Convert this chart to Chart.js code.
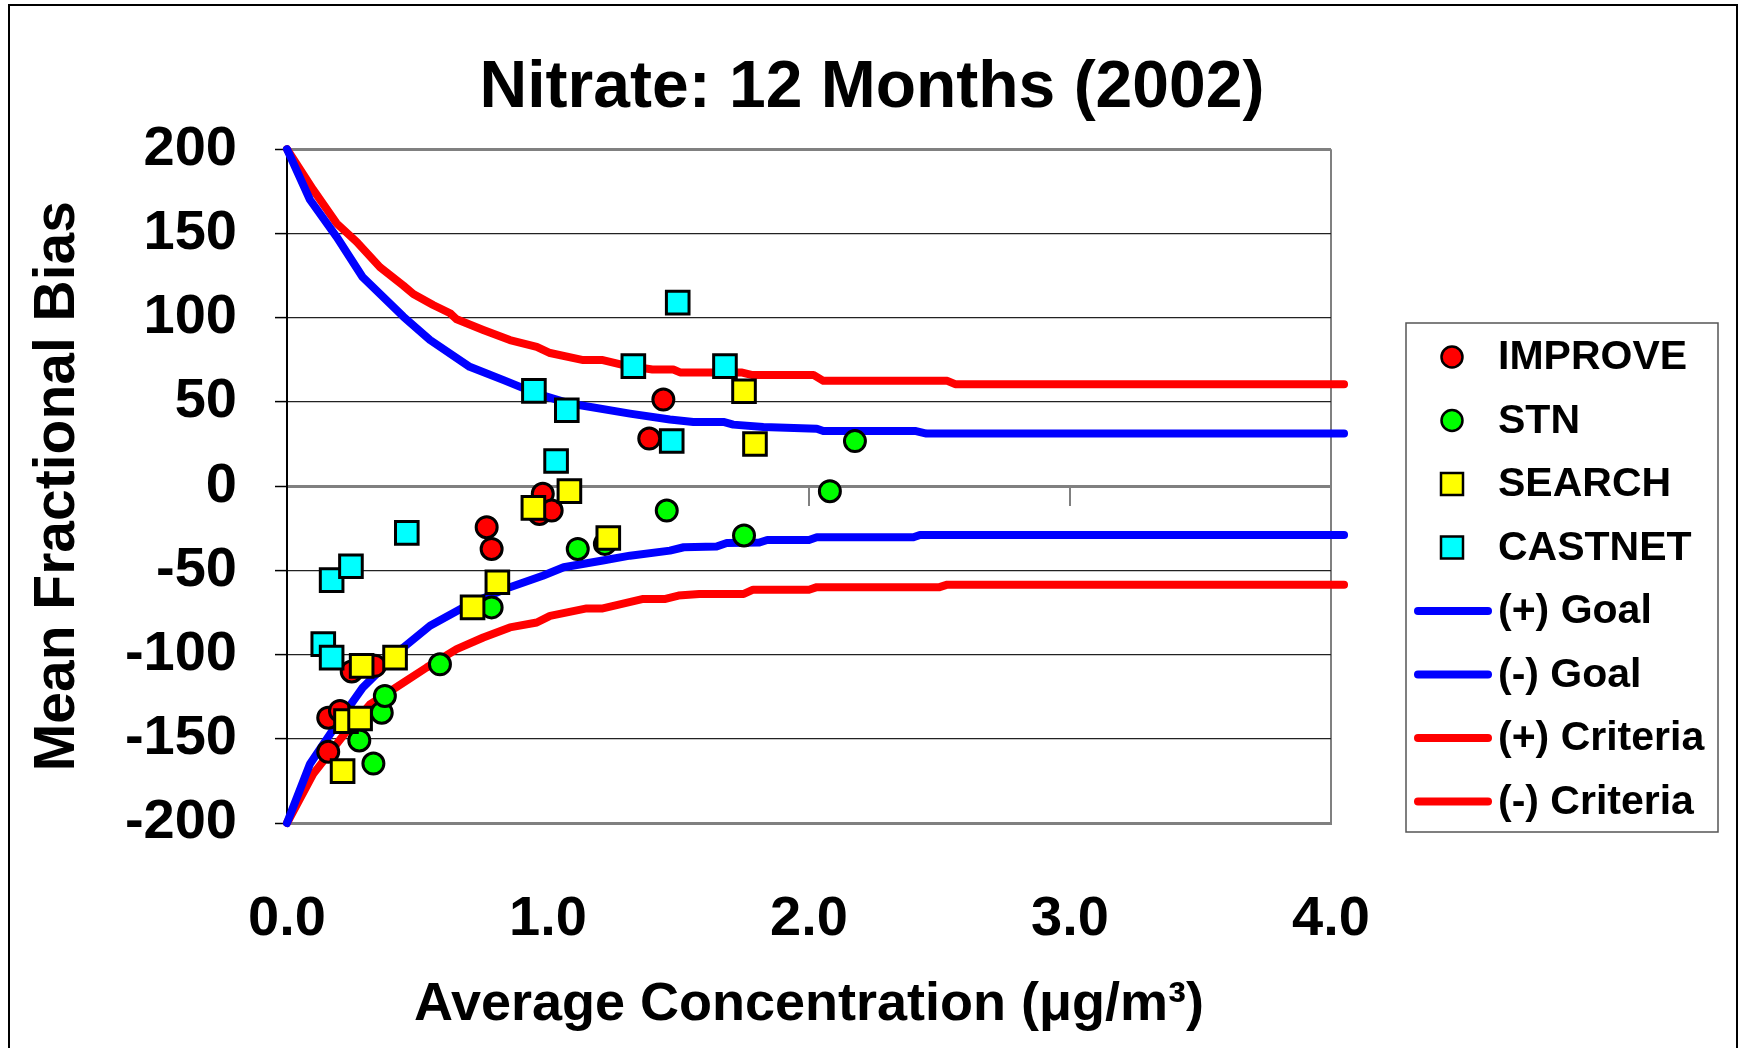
<!DOCTYPE html>
<html>
<head>
<meta charset="utf-8">
<title>Nitrate: 12 Months (2002)</title>
<script src="https://cdn.jsdelivr.net/npm/chart.js@4.4.1/dist/chart.umd.min.js"></script>
<style>
    html, body { margin: 0; padding: 0; background: #fff; }
    #wrap { width: 1744px; height: 1048px; }
</style>
</head>
<body>
<div id="wrap"><canvas id="nitrateChart" width="1744" height="1048"></canvas></div>
<script>
/**
 * Data
 **/
let improveConc = [0.158, 0.158, 0.203, 0.248, 0.337, 0.765, 0.784, 0.967, 0.980, 1.014, 1.388, 1.442];
let improveBias = [-157.7, -137.5, -133.5, -110, -106.7, -24.4, -37.3, -16.5, -4.6, -14.5, 28.2, 51.4];

let stnConc = [0.277, 0.331, 0.363, 0.375, 0.586, 0.784, 1.114, 1.218, 1.455, 1.751, 2.080, 2.176];
let stnBias = [-151, -164.7, -134.5, -124.6, -105.8, -72, -37.3, -34.3, -14.5, -29.3, -3, 26.7];

let searchConc = [0.213, 0.226, 0.280, 0.286, 0.414, 0.711, 0.806, 0.944, 1.082, 1.231, 1.751, 1.793];
let searchBias = [-169.2, -139.5, -138, -106.7, -101.8, -72, -57.1, -12.9, -3, -30.8, 56.3, 25];

let castnetConc = [0.139, 0.171, 0.171, 0.245, 0.459, 0.946, 1.031, 1.072, 1.327, 1.474, 1.497, 1.678];
let castnetBias = [-93.8, -101.8, -55.8, -47.6, -27.8, 56.5, 14.9, 45, 71.2, 26.8, 108.9, 71.2];

let goalPlusConc = [0, 0.088, 0.19, 0.29, 0.446, 0.548, 0.70, 0.83, 0.957, 1.084, 1.314, 1.467, 1.557, 1.672, 1.71, 1.825, 2.03, 2.055, 2.41, 2.45, 4.05];
let goalPlusBias = [200, 170, 148, 124, 100.6, 86.7, 70.8, 62.9, 54.9, 49, 43, 39.5, 38.1, 38.1, 36.5, 35.1, 34.1, 32.7, 32.7, 31.2, 31.2];

let goalMinusConc = [0, 0.088, 0.19, 0.29, 0.446, 0.548, 0.70, 0.854, 0.98, 1.06, 1.21, 1.314, 1.467, 1.52, 1.646, 1.685, 1.81, 1.84, 2.0, 2.03, 2.4, 2.425, 4.05];
let goalMinusBias = [-200, -165, -141.5, -119.6, -95.8, -82.9, -70, -60, -53.2, -48.2, -44.2, -41.3, -38.3, -36.3, -35.9, -33.8, -33.5, -32, -32, -30.4, -30.4, -29, -29];

let critPlusConc = [0, 0.10, 0.19, 0.267, 0.356, 0.446, 0.484, 0.56, 0.625, 0.65, 0.752, 0.854, 0.957, 1.008, 1.135, 1.21, 1.29, 1.40, 1.48, 1.506, 1.74, 1.78, 2.017, 2.055, 2.53, 2.56, 4.05];
let critPlusBias = [200, 176, 156, 145, 130, 119, 114, 107.5, 102.6, 99, 92.7, 86.7, 82.7, 79, 74.8, 74.8, 71.8, 69.2, 69.2, 67.5, 67.5, 66, 66, 62.5, 62.5, 60.5, 60.5];

let critMinusConc = [0, 0.10, 0.229, 0.318, 0.446, 0.535, 0.65, 0.752, 0.854, 0.957, 1.008, 1.148, 1.21, 1.365, 1.45, 1.50, 1.58, 1.75, 1.786, 2.0, 2.03, 2.5, 2.53, 4.05];
let critMinusBias = [-200, -171, -145.4, -129.6, -116.7, -107.7, -96.8, -89.9, -83.9, -81, -77, -72.6, -72.6, -67, -67, -65, -64, -64, -61.5, -61.5, -60, -60, -58.5, -58.5];

let xTickValues = [0, 1, 2, 3, 4];

let fontFamily = "'Liberation Sans', Arial, Helvetica, sans-serif";

function pairs(xs, ys) {
    let out = [];
    for (let i = 0; i < xs.length; i++) {
        out.push({x: xs[i], y: ys[i]});
    }
    return out;
}

function markerSet(label, xs, ys, color, style, radius) {
    return {
        label: label,
        data: pairs(xs, ys),
        pointStyle: style,
        pointRadius: radius,
        pointBackgroundColor: color,
        pointBorderColor: '#000',
        pointBorderWidth: 3,
        showLine: false
    };
}

function curveSet(label, xs, ys, color) {
    return {
        label: label,
        data: pairs(xs, ys),
        showLine: true,
        borderColor: color,
        borderWidth: 8,
        borderCapStyle: 'round',
        borderJoinStyle: 'round',
        pointRadius: 0,
        tension: 0,
        clip: false
    };
}

/**
 * Tick marks on the zero line, outer frame and the boxed legend
 **/
let extrasPlugin = {
    id: 'extras',
    beforeDatasetsDraw(chart) {
        let ctx = chart.ctx;
        let xs = chart.scales.x;
        let y0 = chart.scales.y.getPixelForValue(0);
        ctx.save();
        ctx.strokeStyle = '#808080';
        ctx.lineWidth = 2;
        xTickValues.forEach(function (v) {
            if (v === 0) return;
            let px = xs.getPixelForValue(v);
            ctx.beginPath();
            ctx.moveTo(px, y0);
            ctx.lineTo(px, y0 + 20);
            ctx.stroke();
        });
        ctx.restore();
    },
    afterDraw(chart) {
        let ctx = chart.ctx;
        ctx.save();
        ctx.strokeStyle = '#000';
        ctx.lineWidth = 2;
        ctx.strokeRect(9, 5, 1728, 1070);

        ctx.strokeStyle = '#555';
        ctx.lineWidth = 1.5;
        ctx.strokeRect(1406, 323, 312, 509);

        let order = ['IMPROVE', 'STN', 'SEARCH', 'CASTNET', '(+) Goal', '(-) Goal', '(+) Criteria', '(-) Criteria'];
        let rowY = 357;
        order.forEach(function (name) {
            let ds = chart.data.datasets.find(function (d) { return d.label === name; });
            if (ds.showLine) {
                ctx.strokeStyle = ds.borderColor;
                ctx.lineWidth = 8;
                ctx.lineCap = 'round';
                ctx.beginPath();
                ctx.moveTo(1418, rowY);
                ctx.lineTo(1488, rowY);
                ctx.stroke();
            } else {
                ctx.fillStyle = ds.pointBackgroundColor;
                ctx.strokeStyle = '#000';
                ctx.lineWidth = 2.5;
                ctx.beginPath();
                if (ds.pointStyle === 'circle') {
                    ctx.arc(1452, rowY, 10.5, 0, Math.PI * 2);
                } else {
                    ctx.rect(1441, rowY - 11, 22, 22);
                }
                ctx.fill();
                ctx.stroke();
            }
            ctx.fillStyle = '#000';
            ctx.font = 'bold 41px ' + fontFamily;
            ctx.textAlign = 'left';
            ctx.textBaseline = 'middle';
            ctx.fillText(name, 1498, rowY + 1);
            rowY += 63.5;
        });
        ctx.restore();
    }
};

new Chart(document.getElementById('nitrateChart'), {
    type: 'scatter',
    data: {
        datasets: [
            markerSet('CASTNET', castnetConc, castnetBias, '#00FFFF', 'rect', 16),
            markerSet('SEARCH', searchConc, searchBias, '#FFFF00', 'rect', 16),
            markerSet('STN', stnConc, stnBias, '#00FF00', 'circle', 10.5),
            markerSet('IMPROVE', improveConc, improveBias, '#FF0000', 'circle', 10.5),
            curveSet('(+) Goal', goalPlusConc, goalPlusBias, '#0000FF'),
            curveSet('(-) Goal', goalMinusConc, goalMinusBias, '#0000FF'),
            curveSet('(+) Criteria', critPlusConc, critPlusBias, '#FF0000'),
            curveSet('(-) Criteria', critMinusConc, critMinusBias, '#FF0000')
        ]
    },
    options: {
        responsive: false,
        devicePixelRatio: 1,
        animation: false,
        layout: { padding: 0 },
        plugins: {
            legend: { display: false },
            tooltip: { enabled: false },
            title: {
                display: true,
                text: 'Nitrate: 12 Months (2002)',
                color: '#000',
                font: { family: fontFamily, size: 66, weight: 'bold' },
                padding: { top: 49, bottom: 21 }
            }
        },
        scales: {
            x: {
                type: 'linear',
                min: 0,
                max: 4,
                ticks: {
                    stepSize: 1,
                    maxRotation: 0,
                    color: '#000',
                    padding: 63,
                    font: { family: fontFamily, size: 56, weight: 'bold' },
                    callback: function (v) { return Number(v).toFixed(1); }
                },
                grid: {
                    drawTicks: false,
                    lineWidth: 2,
                    color: function (c) { return c.tick && c.tick.value === 4 ? '#808080' : 'rgba(0,0,0,0)'; }
                },
                border: { color: '#808080', width: 3 },
                title: {
                    display: true,
                    text: 'Average Concentration (\u03bcg/m\u00b3)',
                    color: '#000',
                    font: { family: fontFamily, size: 54, weight: 'bold' },
                    padding: { top: 0, bottom: 10 }
                },
                afterFit: function (s) { s.height = 225; }
            },
            y: {
                type: 'linear',
                min: -200,
                max: 200,
                ticks: {
                    stepSize: 50,
                    color: '#000',
                    padding: 38,
                    font: { family: fontFamily, size: 56, weight: 'bold' }
                },
                grid: {
                    tickLength: 12,
                    tickColor: '#000',
                    tickWidth: 1.5,
                    color: function (c) {
                        let v = c.tick ? c.tick.value : 1;
                        return (v === 0 || Math.abs(v) === 200) ? '#808080' : '#222';
                    },
                    lineWidth: function (c) {
                        let v = c.tick ? c.tick.value : 1;
                        return (v === 0 || Math.abs(v) === 200) ? 3 : 1.2;
                    }
                },
                border: { color: '#000', width: 2 },
                title: {
                    display: true,
                    text: 'Mean Fractional Bias',
                    color: '#000',
                    font: { family: fontFamily, size: 57, weight: 'bold' },
                    padding: { top: 24, bottom: 0 }
                },
                afterFit: function (s) { s.width = 287; }
            },
            yRight: {
                type: 'linear',
                position: 'right',
                display: true,
                ticks: { display: false },
                grid: { display: false, drawTicks: false },
                border: { display: false },
                afterFit: function (s) { s.width = 413; }
            }
        }
    },
    plugins: [extrasPlugin]
});
</script>
</body>
</html>
